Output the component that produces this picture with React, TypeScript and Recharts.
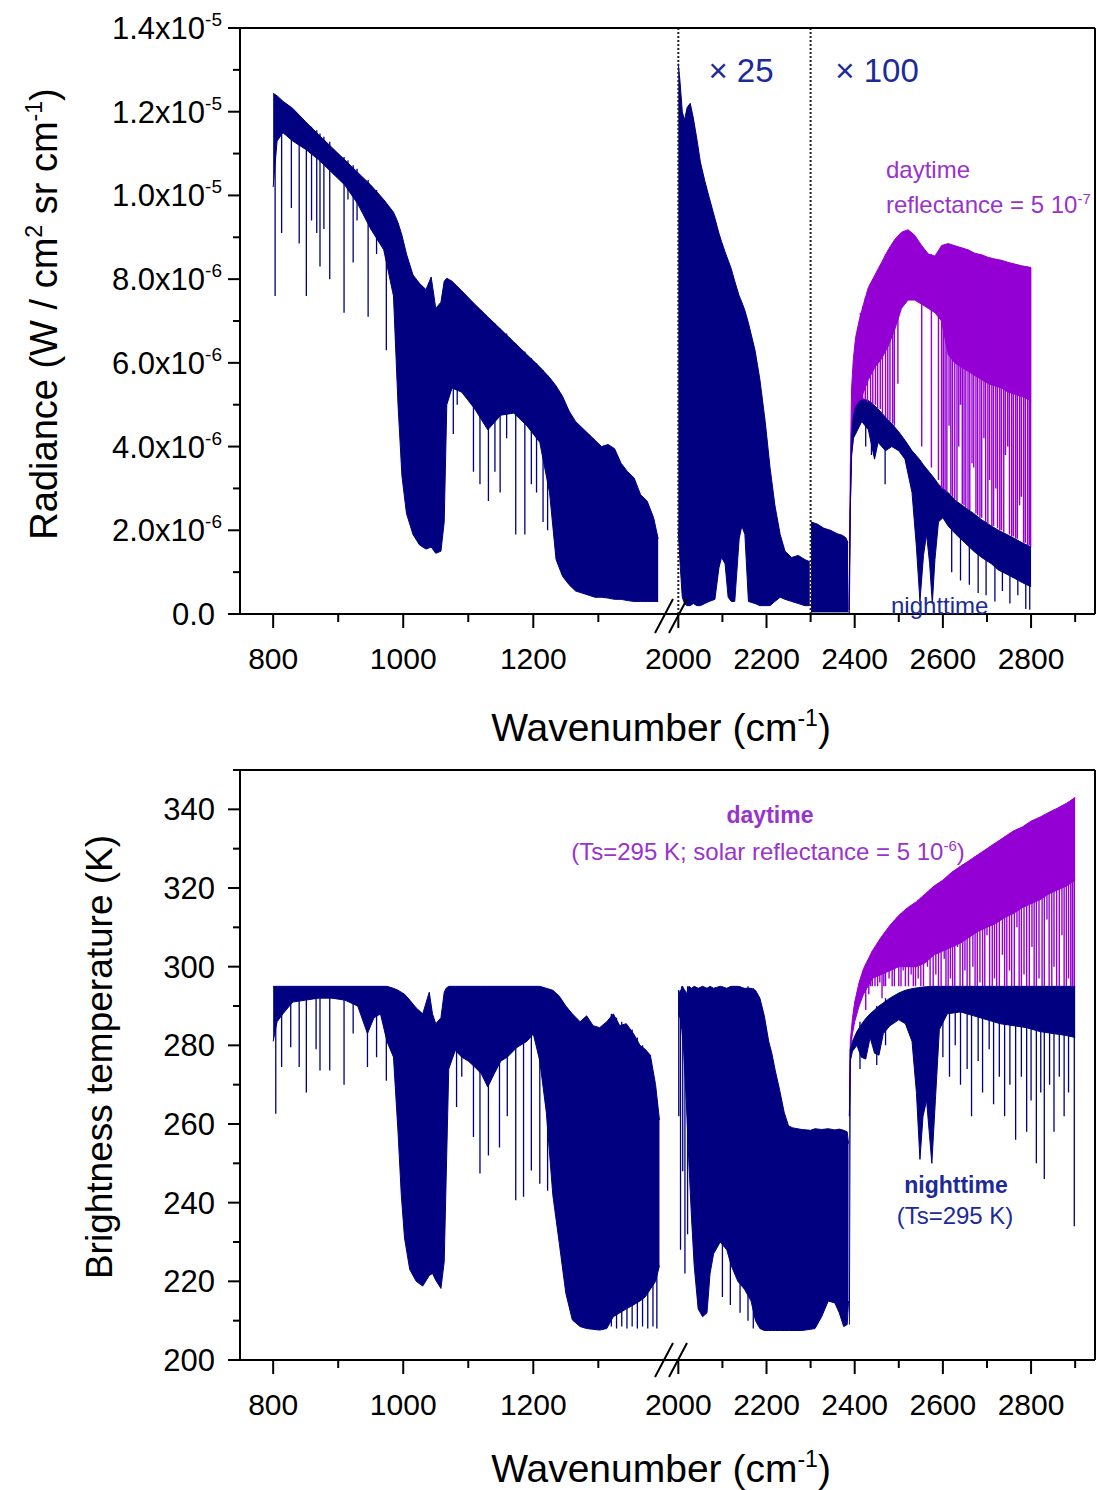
import React from "react";
import { ComposedChart, Area, Line, XAxis, YAxis, ReferenceLine } from "recharts";

const NAVY = "#000080";
const PURPLE = "#9400d3";
const PURPLE_TEXT = "#9933cc";
const FONT = "'Liberation Sans', Arial, Helvetica, sans-serif";

// broken wavenumber axis: 749-1402 cm-1 at full scale, 2000-2945 cm-1 compressed
const pos = (w: number) => (w < 1700 ? w : 1423 + (w - 2000) * 0.678);
const X_DOMAIN = [749, pos(2945)];
const X_MAJOR = [800, 1000, 1200, 2000, 2200, 2400, 2600, 2800];
const X_TICKS = [800, 900, 1000, 1100, 1200, 1300, 2000, 2100, 2200, 2300, 2400, 2500, 2600, 2700, 2800, 2900];

const RAD_TICKS = [0, 1, 2, 3, 4, 5, 6, 7, 8, 9, 10, 11, 12, 13, 14];
const RAD_LABELS: Record<number, [string, string]> = {
  0: ["0.0", ""], 2: ["2.0x10", "-6"], 4: ["4.0x10", "-6"], 6: ["6.0x10", "-6"],
  8: ["8.0x10", "-6"], 10: ["1.0x10", "-5"], 12: ["1.2x10", "-5"], 14: ["1.4x10", "-5"],
};
const BT_TICKS = [200, 210, 220, 230, 240, 250, 260, 270, 280, 290, 300, 310, 320, 330, 340, 350];
const BT_MAJOR = [200, 220, 240, 260, 280, 300, 320, 340];

// ---- radiance, in units of 1e-6 W / cm2 sr cm-1 (values as plotted, incl. x25 / x100) ----
const RAD_L_WN = [800, 806, 815, 830, 850, 870, 890, 910, 930, 950, 970, 985, 992, 998, 1005, 1015, 1025, 1035, 1043, 1050, 1058, 1063, 1067, 1075, 1090, 1110, 1130, 1150, 1170, 1190, 1210, 1225, 1235, 1245, 1255, 1265, 1275, 1285, 1295, 1305, 1315, 1325, 1335, 1345, 1355, 1365, 1375, 1385, 1392];
const RAD_L_TOP = [12.44, 12.38, 12.25, 12.08, 11.76, 11.45, 11.15, 10.85, 10.55, 10.25, 9.9, 9.6, 9.35, 9.05, 8.6, 8.1, 7.9, 7.75, 8.05, 7.3, 7.45, 7.95, 8.02, 7.95, 7.72, 7.4, 7.1, 6.8, 6.5, 6.2, 5.9, 5.65, 5.45, 5.2, 4.85, 4.6, 4.45, 4.3, 4.15, 4.0, 4.05, 3.95, 3.6, 3.4, 3.25, 2.85, 2.7, 2.3, 1.8];
const RAD_L_LOW = [10.2, 11.3, 11.5, 11.3, 11.1, 10.85, 10.55, 10.25, 9.8, 9.2, 8.7, 7.6, 5.0, 3.3, 2.4, 1.9, 1.65, 1.55, 1.6, 1.45, 1.5, 2.2, 5.0, 5.4, 5.3, 4.9, 4.4, 4.75, 4.8, 4.5, 4.1, 2.9, 1.3, 0.9, 0.7, 0.55, 0.5, 0.45, 0.4, 0.4, 0.38, 0.35, 0.35, 0.32, 0.3, 0.3, 0.3, 0.3, 0.3];
const RAD_L_LINES: [number, number, number][] = [
  [803, 12.4, 7.6], [813, 12.28, 9.1], [828, 12.04, 9.7], [840, 11.88, 8.85], [851, 11.72, 7.6],
  [859, 11.64, 9.4], [867, 11.56, 9.1], [872, 11.48, 8.3], [878, 11.4, 9.2], [887, 11.28, 8.0],
  [909, 10.92, 7.2], [915, 10.84, 9.9], [923, 10.72, 8.4], [929, 10.64, 9.4], [946, 10.37, 7.1],
  [959, 10.13, 8.6], [974, 9.8, 6.3], [983, 9.6, 7.9], [989, 9.45, 6.5],
  [1077, 7.9, 4.3], [1083, 7.8, 5.0], [1108, 7.42, 3.4], [1118, 7.26, 3.1], [1131, 7.06, 2.7],
  [1141, 6.94, 3.4], [1149, 6.82, 2.9], [1159, 6.7, 4.2], [1173, 6.46, 1.9], [1187, 6.27, 1.9],
  [1197, 6.11, 3.1], [1205, 5.99, 2.9], [1215, 5.83, 2.2], [1222, 5.7, 2.0],
];

const RAD_25_WN = [2000, 2004, 2009, 2014, 2020, 2027, 2034, 2042, 2050, 2060, 2070, 2083, 2092, 2098, 2106, 2113, 2120, 2128, 2138, 2144, 2151, 2159, 2174, 2185, 2197, 2208, 2219, 2231, 2242, 2257, 2272, 2287, 2298];
const RAD_25_TOP = [13.15, 12.7, 12.0, 11.8, 12.1, 12.2, 11.85, 11.35, 10.8, 10.35, 9.95, 9.45, 9.1, 8.9, 8.65, 8.45, 8.25, 7.95, 7.6, 7.45, 7.25, 6.95, 6.3, 5.6, 4.6, 3.5, 2.6, 1.9, 1.5, 1.35, 1.4, 1.3, 1.25];
const RAD_25_LOW = [2.0, 1.2, 0.4, 0.25, 0.2, 0.2, 0.25, 0.2, 0.2, 0.25, 0.3, 0.35, 1.1, 1.35, 1.2, 0.4, 0.3, 0.3, 1.8, 2.1, 1.9, 0.3, 0.25, 0.2, 0.2, 0.2, 0.3, 0.4, 0.35, 0.3, 0.25, 0.2, 0.2];

const RAD_100_WN = [2301, 2315, 2330, 2345, 2360, 2372, 2380, 2385];
const RAD_100_TOP = [2.2, 2.15, 2.05, 2.0, 1.92, 1.88, 1.82, 1.7];
const RAD_100_LOW = [0.05, 0.05, 0.05, 0.05, 0.05, 0.05, 0.05, 0.05];

const RAD_NIGHT_WN = [2387, 2390, 2393, 2397, 2402, 2416, 2431, 2445, 2453, 2470, 2484, 2500, 2514, 2530, 2540, 2548, 2556, 2563, 2570, 2576, 2582, 2590, 2600, 2612, 2630, 2650, 2670, 2688, 2710, 2726, 2745, 2763, 2780, 2800];
const RAD_NIGHT_TOP = [0.1, 2.8, 4.2, 4.7, 4.95, 5.15, 5.1, 4.98, 4.9, 4.7, 4.55, 4.35, 4.15, 3.9, 3.78, 3.68, 3.56, 3.47, 3.38, 3.3, 3.22, 3.1, 3.0, 2.9, 2.7, 2.55, 2.4, 2.25, 2.1, 2.0, 1.9, 1.8, 1.7, 1.6];
const RAD_NIGHT_LOW = [0, 2.5, 3.8, 4.2, 4.3, 4.6, 4.4, 3.7, 4.1, 3.9, 4.0, 3.9, 3.7, 2.9, 1.6, 0.3, 1.4, 1.9, 1.2, 0.25, 1.3, 2.2, 2.3, 2.1, 1.9, 1.7, 1.5, 1.35, 1.2, 1.05, 0.95, 0.85, 0.75, 0.65];
const RAD_NIGHT_LINES: [number, number, number][] = [
  [2425, 5.1, 4.0], [2438, 5.05, 3.8], [2469, 4.7, 3.1], [2620, 2.8, 1.0], [2640, 2.62, 0.8],
  [2660, 2.48, 0.7], [2680, 2.32, 0.5], [2698, 2.2, 0.45], [2718, 2.05, 0.3], [2735, 1.95, 0.55],
  [2752, 1.85, 0.25], [2770, 1.75, 0.45], [2788, 1.66, 0.12], [2797, 1.62, 0.1],
];

const RAD_DAY_WN = [2388, 2390, 2393, 2397, 2402, 2410, 2420, 2431, 2446, 2461, 2476, 2491, 2506, 2521, 2536, 2552, 2567, 2582, 2597, 2612, 2627, 2642, 2657, 2672, 2688, 2703, 2718, 2733, 2748, 2763, 2778, 2800];
const RAD_DAY_TOP = [0.2, 3.5, 5.4, 6.1, 6.6, 7.0, 7.4, 7.8, 8.1, 8.4, 8.7, 8.95, 9.12, 9.18, 9.05, 8.8, 8.6, 8.55, 8.8, 8.85, 8.8, 8.75, 8.7, 8.62, 8.58, 8.52, 8.48, 8.45, 8.4, 8.36, 8.32, 8.28];
const RAD_DAY_LOW = [0, 2.5, 3.8, 4.2, 4.5, 5.0, 5.3, 5.6, 5.9, 6.1, 6.4, 6.8, 7.3, 7.5, 7.5, 7.4, 7.3, 7.2, 7.0, 6.2, 6.0, 5.9, 5.8, 5.7, 5.6, 5.5, 5.45, 5.4, 5.3, 5.25, 5.2, 5.1];
const RAD_DAY_LINES: [number, number, number][] = [
  [2413, 7.2, 5.1], [2418, 7.35, 5.1], [2424, 7.55, 5.1], [2429, 7.7, 5.05], [2436, 7.9, 5.05],
  [2441, 8.0, 5.0], [2447, 8.1, 5.0], [2452, 8.2, 4.9], [2458, 8.3, 4.9], [2463, 8.4, 4.8],
  [2470, 8.6, 4.7], [2475, 8.65, 4.65], [2480, 8.75, 4.6], [2486, 8.85, 4.55], [2490, 8.9, 4.5],
  [2498, 9.0, 5.5], [2552, 8.8, 4.0], [2574, 8.6, 3.5], [2590, 8.6, 3.2], [2597, 8.8, 3.0],
  [2601, 8.82, 3.0], [2605, 8.84, 2.95], [2609, 8.84, 2.9], [2614, 8.84, 4.5], [2618, 8.82, 2.85],
  [2622, 8.8, 2.8], [2627, 8.8, 2.75], [2632, 8.78, 2.7], [2636, 8.77, 4.0], [2640, 8.76, 5.0],
  [2644, 8.75, 2.62], [2648, 8.73, 2.6], [2652, 8.72, 2.55], [2657, 8.7, 2.5], [2661, 8.68, 2.48],
  [2666, 8.65, 3.6], [2670, 8.63, 3.5], [2675, 8.61, 2.4], [2679, 8.6, 2.36], [2684, 8.59, 2.3],
  [2688, 8.58, 2.3], [2693, 8.56, 4.2], [2697, 8.54, 2.2], [2702, 8.52, 2.15], [2706, 8.51, 3.2],
  [2711, 8.5, 2.1], [2715, 8.49, 2.1], [2720, 8.48, 3.0], [2724, 8.47, 2.05], [2729, 8.46, 2.0],
  [2733, 8.45, 2.0], [2738, 8.43, 1.95], [2742, 8.42, 3.8], [2747, 8.4, 4.0], [2751, 8.39, 1.9],
  [2756, 8.38, 1.85], [2760, 8.37, 1.85], [2765, 8.36, 1.8], [2769, 8.35, 1.8], [2774, 8.34, 2.6],
  [2778, 8.32, 2.8], [2783, 8.31, 1.7], [2787, 8.3, 1.7], [2792, 8.29, 1.65], [2796, 8.28, 1.64],
  [2799, 8.28, 1.6],
];

// ---- brightness temperature, K ----
const BT_L_WN = [800, 806, 815, 830, 850, 870, 890, 910, 930, 945, 955, 965, 975, 985, 992, 997, 1002, 1010, 1020, 1030, 1040, 1045, 1050, 1058, 1063, 1066, 1070, 1080, 1090, 1100, 1110, 1120, 1130, 1140, 1150, 1160, 1175, 1190, 1200, 1210, 1220, 1230, 1240, 1250, 1260, 1272, 1282, 1292, 1302, 1313, 1323, 1333, 1343, 1354, 1364, 1372, 1380, 1388, 1394];
const BT_L_TOP = [295, 295, 295, 295, 295, 295, 295, 295, 295, 295, 295, 295, 295, 294.5, 294, 293.5, 293, 291.5, 289.5, 288, 293.5, 288, 285.5, 287, 293.5, 294.5, 295, 295, 295, 295, 295, 295, 295, 295, 295, 295, 295, 295, 295, 295, 294.5, 294, 292.5, 290, 288, 286, 287.5, 285, 284.5, 286, 288, 285, 285.5, 283, 280, 279, 277.5, 270, 261];
const BT_L_LOW = [281, 286, 288, 291, 291.5, 292, 292, 291.5, 290, 283, 287, 288, 281, 277, 258, 242, 231, 223, 220, 218.8, 221.5, 222, 220.3, 218.2, 225, 246, 274, 278.7, 277, 276, 274.5, 272.8, 269.4, 272.8, 276, 277, 279.5, 281, 282.9, 276, 263, 242, 229.6, 217, 210.2, 208.5, 208, 207.8, 207.6, 208, 211, 212, 213, 214, 215, 216, 218, 220, 224];
const BT_L_LINES: [number, number, number][] = [
  [804, 295, 262.6], [813, 294, 274.5], [827, 295, 279.5], [840, 295, 274.5], [851, 295, 268],
  [866, 295, 279], [872, 295, 273.6], [887, 295, 273.6], [909, 294.5, 270], [923, 294.5, 283],
  [945, 294, 274.5], [959, 294, 277], [974, 294, 271],
  [1082, 294.5, 264.3], [1090, 295, 272], [1108, 294.5, 256.7], [1118, 294.5, 247.4], [1131, 294.5, 252],
  [1148, 294.5, 254], [1160, 294.5, 262], [1173, 293, 240.6], [1185, 293, 241.5], [1197, 294, 248.2],
  [1210, 293, 244.8], [1222, 292, 243],
  [1320, 288, 208.5], [1328, 287, 208], [1336, 286, 208.5], [1344, 285, 208], [1352, 284, 208.5],
  [1360, 282, 208], [1368, 280, 208.5], [1376, 278, 208], [1384, 272, 208.5], [1390, 266, 208],
];

const BT_R_WN = [2000, 2004, 2008, 2012, 2018, 2024, 2030, 2036, 2045, 2055, 2065, 2072, 2080, 2095, 2110, 2120, 2135, 2150, 2165, 2175, 2185, 2195, 2205, 2212, 2220, 2230, 2240, 2250, 2260, 2280, 2300, 2310, 2325, 2340, 2355, 2365, 2375, 2383, 2386];
const BT_R_TOP = [294, 293, 295, 294.5, 293, 295, 294.5, 295, 294.5, 295, 294.5, 295, 294.5, 295, 294.5, 295, 295, 294.5, 294.5, 294, 292, 287.5, 281, 278, 273.5, 268.5, 263, 259.5, 259, 258.6, 258.4, 258.8, 258.6, 258.8, 258.5, 258.7, 258.4, 258, 255];
const BT_R_LOW = [288, 287, 284, 279, 266, 250, 236, 224, 213, 211, 212, 222, 227, 230, 228, 224, 220, 218, 215, 210, 208, 207.5, 207.5, 207.5, 207.5, 207.5, 207.5, 207.5, 207.5, 207.5, 207.8, 208, 211, 215, 214.5, 212, 208.5, 209, 215];
const BT_R_LINES: [number, number, number][] = [
  [2001, 294, 262], [2005, 294, 228], [2010, 295, 248], [2015, 294, 222], [2021, 295, 232],
  [2100, 295, 216], [2118, 295, 214], [2140, 295, 212], [2158, 295, 210], [2170, 294.5, 208],
];

const BT_NIGHT_WN = [2388, 2390, 2395, 2405, 2415, 2425, 2435, 2445, 2455, 2465, 2480, 2500, 2515, 2530, 2540, 2548, 2555, 2563, 2575, 2583, 2592, 2610, 2640, 2670, 2700, 2730, 2760, 2790, 2820, 2850, 2880, 2900];
const BT_NIGHT_TOP = [262, 279, 281, 283.5, 285.3, 286.8, 288, 289, 290, 290.8, 292, 293.3, 294, 294.4, 294.6, 294.7, 294.8, 294.9, 295, 295, 295, 295, 295, 295, 295, 295, 295, 295, 295, 295, 295, 295];
const BT_NIGHT_LOW = [209, 276, 278.5, 280, 277, 276.5, 282, 278, 277.5, 283, 285, 286.5, 285.5, 281, 268, 251, 262, 266, 250, 266, 284, 288, 288.5, 287.5, 286.5, 285.5, 285, 284.5, 283.5, 283, 282.5, 282];
const BT_NIGHT_LINES: [number, number, number][] = [
  [2412, 286, 274], [2450, 290, 275], [2470, 292, 280],
  [2600, 295, 277], [2615, 295, 272], [2628, 295, 280], [2640, 295, 270], [2655, 295, 274],
  [2665, 295, 262], [2680, 295, 276], [2690, 295, 268], [2705, 295, 279], [2715, 295, 265],
  [2728, 295, 272], [2740, 295, 262], [2752, 295, 270], [2765, 295, 256], [2778, 295, 272],
  [2790, 295, 258], [2800, 295, 266], [2812, 295, 250], [2822, 295, 268], [2830, 295, 246],
  [2842, 295, 270], [2852, 295, 258], [2864, 295, 272], [2875, 295, 262], [2885, 295, 268],
  [2898, 295, 234],
];

const BT_DAY_WN = [2388, 2390, 2395, 2400, 2410, 2420, 2440, 2460, 2480, 2500, 2520, 2540, 2560, 2580, 2600, 2620, 2640, 2660, 2680, 2700, 2720, 2740, 2760, 2780, 2800, 2820, 2840, 2860, 2880, 2900];
const BT_DAY_TOP = [262, 281, 287, 291, 296, 299.5, 304, 307.5, 310.5, 313, 315, 316.5, 318.5, 320.5, 322, 324, 325.5, 327, 328.5, 330, 331.5, 333, 334.5, 335.5, 337, 338, 339.2, 340.3, 341.5, 343];
const BT_DAY_LOW = [262, 279, 283, 286, 290, 293, 297, 298, 299, 300, 300, 300, 301, 303, 304, 305, 306, 307.5, 309, 310, 311, 312.5, 313.5, 315, 316, 317, 318.5, 319.5, 320.5, 322];
const BT_DAY_LINES: [number, number, number][] = [
  [2425, 300.5, 289], [2432, 302, 293], [2436, 303, 295], [2440, 304, 295], [2446, 305, 295],
  [2452, 306, 295], [2457, 306.8, 296], [2462, 307.5, 292], [2466, 308.3, 295], [2470, 309, 295],
  [2478, 310, 297], [2485, 311, 295], [2490, 311.8, 295], [2495, 312.5, 300], [2500, 313, 295],
  [2505, 313.5, 295], [2510, 314, 299], [2515, 314.5, 295], [2522, 315, 295], [2528, 315.5, 298],
  [2533, 316, 295], [2538, 316.3, 295], [2544, 317, 297], [2550, 317.5, 295], [2556, 318, 295],
  [2565, 319, 300], [2571, 319.6, 295], [2578, 320.3, 295], [2584, 320.7, 298], [2590, 321.2, 295],
  [2596, 321.7, 295], [2603, 322.2, 302], [2607, 322.6, 295], [2612, 323, 295], [2617, 323.5, 297],
  [2622, 324, 295], [2627, 324.5, 295], [2633, 325, 305], [2639, 325.5, 295], [2645, 326, 295],
  [2650, 326.3, 299], [2655, 326.5, 295], [2661, 327, 295], [2668, 327.5, 300], [2673, 328, 295],
  [2678, 328.3, 295], [2684, 328.8, 296], [2690, 329.2, 295], [2695, 329.6, 295], [2700, 330, 308],
  [2706, 330.5, 295], [2712, 331, 295], [2717, 331.3, 297], [2722, 331.6, 295], [2728, 332, 295],
  [2735, 332.6, 303], [2740, 333, 295], [2745, 333.4, 295], [2751, 333.8, 299], [2756, 334.2, 295],
  [2762, 334.6, 295], [2768, 335, 310], [2773, 335.2, 295], [2778, 335.4, 295], [2784, 335.7, 298],
  [2790, 336.2, 295], [2796, 336.6, 295], [2802, 337, 305], [2807, 337.3, 295], [2812, 337.6, 295],
  [2818, 338, 297], [2825, 338.3, 295], [2830, 338.6, 295], [2836, 339, 312], [2841, 339.3, 295],
  [2847, 339.6, 295], [2852, 339.9, 300], [2858, 340.2, 295], [2864, 340.6, 295], [2870, 341, 308],
  [2875, 341.2, 295], [2880, 341.5, 295], [2885, 341.8, 297], [2890, 342.2, 295], [2894, 342.6, 295],
  [2898, 343, 295],
];

// dense absorption comb drawn as a filled band plus single deep lines
const toBand = (wn: number[], top: number[], low: number[]) =>
  wn.map((w, i) => ({ x: pos(w), y: [low[i], top[i]] }));

const toLines = (list: [number, number, number][]) =>
  list.flatMap(([w, top, bottom]) => [
    { x: pos(w), y: top },
    { x: pos(w), y: bottom },
    { x: pos(w), y: null },
  ]);

function XTick({ x, y, payload }: any) {
  const w = X_TICKS.find((t) => Math.abs(pos(t) - payload.value) < 0.01) ?? 0;
  const major = X_MAJOR.includes(w);
  return (
    <g>
      <line x1={x} x2={x} y1={y} y2={y + (major ? 14 : 8)} stroke="#000" strokeWidth={2} />
      {major && (
        <text x={x} y={y + 55} textAnchor="middle" fontSize={30} fontFamily={FONT} fill="#000">
          {w}
        </text>
      )}
    </g>
  );
}

function RadTick({ x, y, payload }: any) {
  const label = RAD_LABELS[payload.value];
  return (
    <g>
      <line x1={x - (label ? 12 : 7)} x2={x} y1={y} y2={y} stroke="#000" strokeWidth={2} />
      {label && (
        <text
          x={x - (label[1] ? 18 : 25)}
          y={y + 11}
          textAnchor="end"
          fontSize={31}
          fontFamily={FONT}
          fill="#000"
        >
          {label[0]}
          {label[1] && (
            <tspan dy={-13} fontSize={19}>
              {label[1]}
            </tspan>
          )}
        </text>
      )}
    </g>
  );
}

function BtTick({ x, y, payload }: any) {
  const major = BT_MAJOR.includes(payload.value);
  return (
    <g>
      <line x1={x - (major ? 12 : 7)} x2={x} y1={y} y2={y} stroke="#000" strokeWidth={2} />
      {major && (
        <text x={x - 25} y={y + 11} textAnchor="end" fontSize={31} fontFamily={FONT} fill="#000">
          {payload.value}
        </text>
      )}
    </g>
  );
}

const band = (data: any[], color: string) => (
  <Area
    data={data}
    dataKey="y"
    type="linear"
    stroke={color}
    strokeWidth={1}
    fill={color}
    fillOpacity={1}
    dot={false}
    activeDot={false}
    isAnimationActive={false}
  />
);

const lines = (data: any[], color: string, width = 1.3) => (
  <Line
    data={data}
    dataKey="y"
    type="linear"
    stroke={color}
    strokeWidth={width}
    dot={false}
    activeDot={false}
    connectNulls={false}
    isAnimationActive={false}
  />
);

const axisLine = { stroke: "#000", strokeWidth: 2 };

function RadianceChart() {
  return (
    <ComposedChart width={1097} height={740} margin={{ top: 28, right: 2, bottom: 0, left: 0 }}>
      <XAxis
        type="number"
        dataKey="x"
        domain={X_DOMAIN}
        allowDataOverflow
        ticks={X_TICKS.map(pos)}
        interval={0}
        tick={(p: any) => <XTick {...p} />}
        tickLine={false}
        tickSize={0}
        tickMargin={0}
        height={126}
        axisLine={axisLine}
      />
      <YAxis
        type="number"
        domain={[0, 14]}
        allowDataOverflow
        ticks={RAD_TICKS}
        interval={0}
        tick={(p: any) => <RadTick {...p} />}
        tickLine={false}
        tickSize={0}
        tickMargin={0}
        width={240}
        axisLine={axisLine}
      />
      {band(toBand(RAD_L_WN, RAD_L_TOP, RAD_L_LOW), NAVY)}
      {lines(toLines(RAD_L_LINES), NAVY)}
      {band(toBand(RAD_25_WN, RAD_25_TOP, RAD_25_LOW), NAVY)}
      {band(toBand(RAD_100_WN, RAD_100_TOP, RAD_100_LOW), NAVY)}
      {band(toBand(RAD_DAY_WN, RAD_DAY_TOP, RAD_DAY_LOW), PURPLE)}
      {lines(toLines(RAD_DAY_LINES), PURPLE, 1.4)}
      {band(toBand(RAD_NIGHT_WN, RAD_NIGHT_TOP, RAD_NIGHT_LOW), NAVY)}
      {lines(toLines(RAD_NIGHT_LINES), NAVY)}
      <ReferenceLine x={pos(2000)} stroke="#222" strokeWidth={2} strokeDasharray="2 2" />
      <ReferenceLine x={pos(2300)} stroke="#222" strokeWidth={2} strokeDasharray="2 2" />
      <ReferenceLine y={14} stroke="#000" strokeWidth={2} />
      <ReferenceLine x={X_DOMAIN[1]} stroke="#000" strokeWidth={2} />
    </ComposedChart>
  );
}

function BrightnessChart() {
  return (
    <ComposedChart width={1097} height={750} margin={{ top: 30, right: 2, bottom: 0, left: 0 }}>
      <XAxis
        type="number"
        dataKey="x"
        domain={X_DOMAIN}
        allowDataOverflow
        ticks={X_TICKS.map(pos)}
        interval={0}
        tick={(p: any) => <XTick {...p} />}
        tickLine={false}
        tickSize={0}
        tickMargin={0}
        height={130}
        axisLine={axisLine}
      />
      <YAxis
        type="number"
        domain={[200, 350]}
        allowDataOverflow
        ticks={BT_TICKS}
        interval={0}
        tick={(p: any) => <BtTick {...p} />}
        tickLine={false}
        tickSize={0}
        tickMargin={0}
        width={240}
        axisLine={axisLine}
      />
      {band(toBand(BT_L_WN, BT_L_TOP, BT_L_LOW), NAVY)}
      {lines(toLines(BT_L_LINES), NAVY)}
      {band(toBand(BT_R_WN, BT_R_TOP, BT_R_LOW), NAVY)}
      {lines(toLines(BT_R_LINES), NAVY)}
      {band(toBand(BT_DAY_WN, BT_DAY_TOP, BT_DAY_LOW), PURPLE)}
      {lines(toLines(BT_DAY_LINES), PURPLE, 1.4)}
      {band(toBand(BT_NIGHT_WN, BT_NIGHT_TOP, BT_NIGHT_LOW), NAVY)}
      {lines(toLines(BT_NIGHT_LINES), NAVY)}
      <ReferenceLine y={350} stroke="#000" strokeWidth={2} />
      <ReferenceLine x={X_DOMAIN[1]} stroke="#000" strokeWidth={2} />
    </ComposedChart>
  );
}

function Sup({ children, size = 23, rise = 15 }: { children: string; size?: number; rise?: number }) {
  return (
    <tspan dy={-rise} fontSize={size}>
      {children}
    </tspan>
  );
}

function Annotations() {
  return (
    <svg
      width={1097}
      height={1490}
      style={{ position: "absolute", left: 0, top: 0, pointerEvents: "none" }}
      fontFamily={FONT}
    >
      {/* axis titles */}
      <text transform="translate(57,314) rotate(-90)" textAnchor="middle" fontSize={38} fill="#000">
        Radiance (W / cm<Sup>2</Sup>
        <tspan dy={15}>{" sr cm"}</tspan>
        <Sup>-1</Sup>
        <tspan dy={15}>)</tspan>
      </text>
      <text x={661} y={741} textAnchor="middle" fontSize={39} fill="#000">
        Wavenumber (cm<Sup>-1</Sup>
        <tspan dy={15}>)</tspan>
      </text>
      <text transform="translate(112,1057) rotate(-90)" textAnchor="middle" fontSize={37} fill="#000">
        Brightness temperature (K)
      </text>
      <text x={661} y={1482} textAnchor="middle" fontSize={39} fill="#000">
        Wavenumber (cm<Sup>-1</Sup>
        <tspan dy={15}>)</tspan>
      </text>

      {/* axis break marks */}
      <g stroke="#000" strokeWidth={2}>
        <line x1={655} y1={633} x2={673} y2={599} />
        <line x1={669} y1={633} x2={687} y2={599} />
        <line x1={655} y1={1377} x2={673} y2={1343} />
        <line x1={669} y1={1377} x2={687} y2={1343} />
      </g>

      {/* radiance panel notes */}
      <text x={741} y={82} textAnchor="middle" fontSize={33} fill="#1c2a9a">
        × 25
      </text>
      <text x={877} y={82} textAnchor="middle" fontSize={33} fill="#1c2a9a">
        × 100
      </text>
      <text x={886} y={178} fontSize={24} fill={PURPLE_TEXT}>
        daytime
      </text>
      <text x={886} y={213} fontSize={24} fill={PURPLE_TEXT}>
        reflectance = 5 10<Sup size={15} rise={9}>-7</Sup>
      </text>
      <text x={891} y={614} fontSize={24} fill="#1c2a9a">
        nighttime
      </text>

      {/* brightness temperature panel notes */}
      <text x={770} y={823} textAnchor="middle" fontSize={23} fontWeight="bold" fill={PURPLE_TEXT}>
        daytime
      </text>
      <text x={768} y={860} textAnchor="middle" fontSize={24} fill={PURPLE_TEXT}>
        (Ts=295 K; solar reflectance = 5 10<Sup size={15} rise={9}>-6</Sup>
        <tspan dy={9}>)</tspan>
      </text>
      <text x={956} y={1193} textAnchor="middle" fontSize={23} fontWeight="bold" fill="#1c2a9a">
        nighttime
      </text>
      <text x={955} y={1224} textAnchor="middle" fontSize={24} fill="#1c2a9a">
        (Ts=295 K)
      </text>
    </svg>
  );
}

export default function App() {
  return (
    <div style={{ position: "absolute", left: 0, top: 0, width: 1097, height: 1490, background: "#fff" }}>
      <div style={{ position: "absolute", left: 0, top: 0 }}>
        <RadianceChart />
      </div>
      <div style={{ position: "absolute", left: 0, top: 740 }}>
        <BrightnessChart />
      </div>
      <Annotations />
    </div>
  );
}
